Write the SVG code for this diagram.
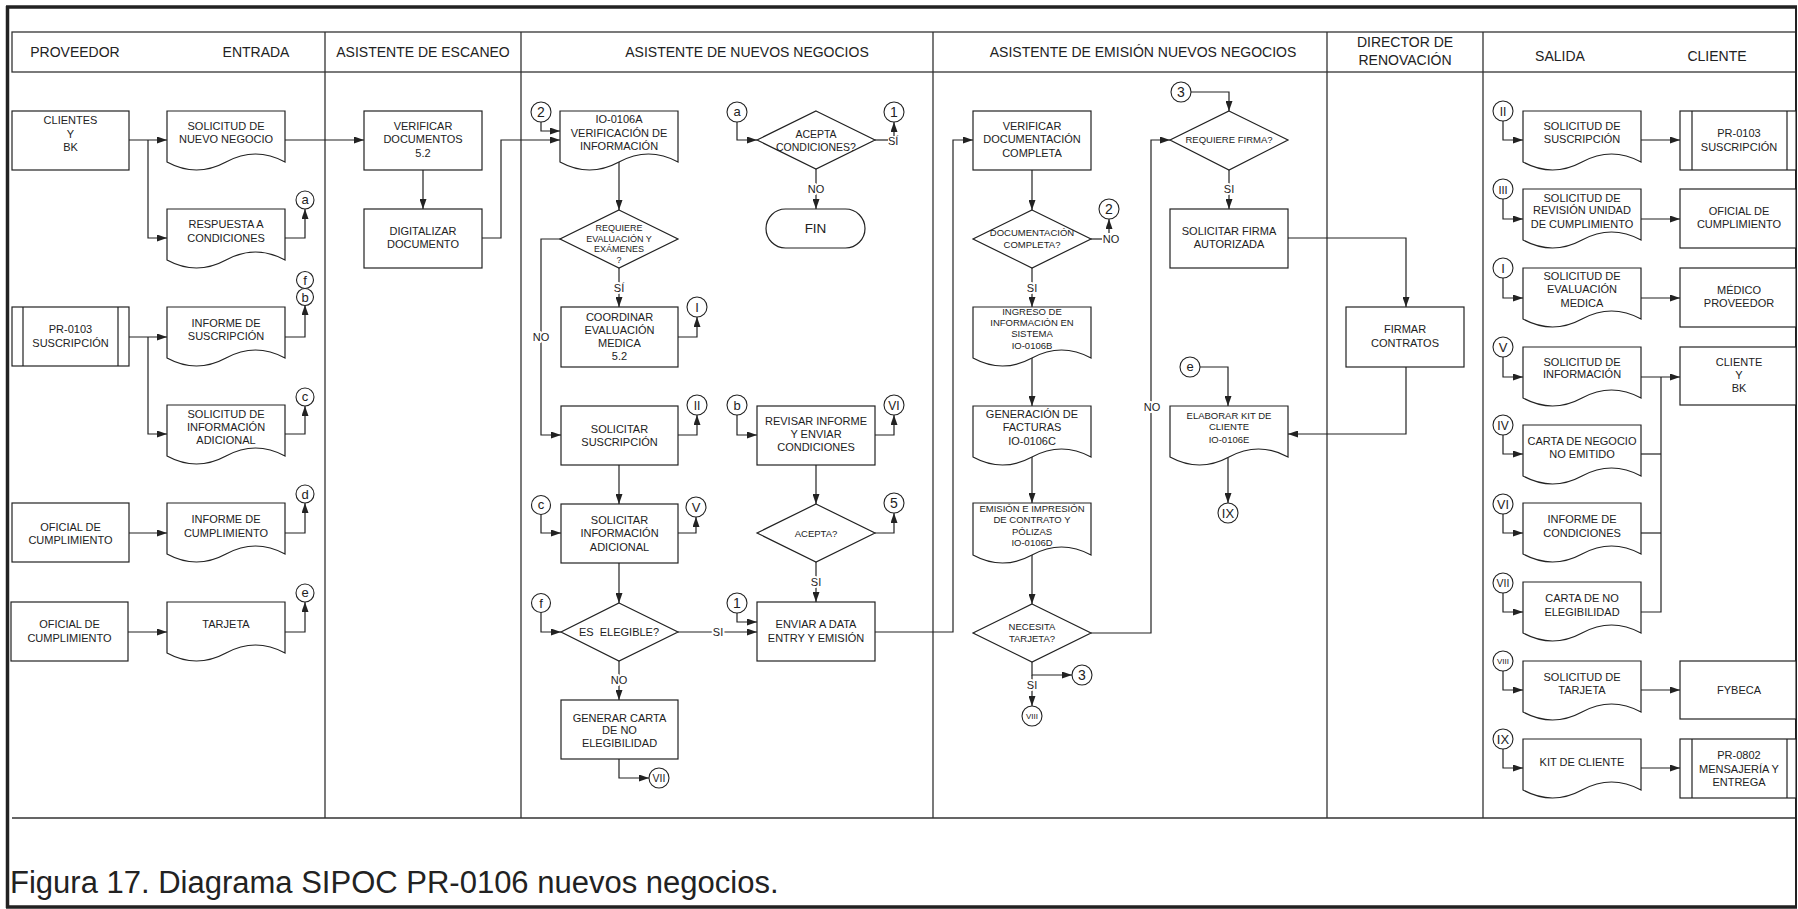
<svg xmlns="http://www.w3.org/2000/svg" width="1798" height="909" viewBox="0 0 1798 909">
<style>
text{font-family:"Liberation Sans",Arial,sans-serif;fill:#222;text-anchor:middle}
.t{font-size:11px}
.s{font-size:9.5px}
.h{font-size:14px}
.c{font-size:13px}
.lb{font-size:11px;stroke:#fff;stroke-width:4px;paint-order:stroke;stroke-linejoin:round}
.sh{fill:#fff;stroke:#222;stroke-width:1.2}
.ln{fill:none;stroke:#222;stroke-width:1.2}
.ar{fill:none;stroke:#222;stroke-width:1.2;marker-end:url(#ah)}
.lane{fill:none;stroke:#333;stroke-width:1.3}
.cir{fill:#fff;stroke:#222;stroke-width:1.1}
</style>
<defs>
<marker id="ah" viewBox="0 0 10 7" refX="10" refY="3.5" markerWidth="10" markerHeight="7" markerUnits="userSpaceOnUse" orient="auto"><path d="M0,0L10,3.5L0,7z" fill="#222"/></marker>
</defs>
<rect x="0" y="0" width="1798" height="909" fill="#fff"/>

<g id="frame">
<rect class="lane" x="12" y="32" width="1784" height="40"/>
<path class="lane" d="M325,32V818M521,32V818M933,32V818M1327,32V818M1483,32V818M12,818H1796"/>
<path d="M6,7H1797M7.5,6V908M6,907H1797" fill="none" stroke="#222" stroke-width="3.5"/>
<path d="M1796,7V908" fill="none" stroke="#222" stroke-width="2"/>
<text class="h" x="75" y="57">PROVEEDOR</text>
<text class="h" x="256" y="57">ENTRADA</text>
<text class="h" x="423" y="57">ASISTENTE DE ESCANEO</text>
<text class="h" x="747" y="57">ASISTENTE DE NUEVOS NEGOCIOS</text>
<text class="h" x="1143" y="57">ASISTENTE DE EMISIÓN NUEVOS NEGOCIOS</text>
<text class="h" x="1405" y="47">DIRECTOR DE</text>
<text class="h" x="1405" y="65">RENOVACIÓN</text>
<text class="h" x="1560" y="61">SALIDA</text>
<text class="h" x="1717" y="61">CLIENTE</text>
<text x="10" y="893" style="font-size:31px;text-anchor:start">Figura 17. Diagrama SIPOC PR-0106 nuevos negocios.</text>
</g>

<g id="connectors">
<path class="ar" d="M129,140H167"/>
<path class="ar" d="M148,140V238H167"/>
<path class="ar" d="M285,140H364"/>
<path class="ar" d="M285,238H305V209"/>
<path class="ar" d="M129,337H167"/>
<path class="ar" d="M148,337V434H167"/>
<path class="ar" d="M285,337H305V305"/>
<path class="ar" d="M285,434H305V406"/>
<path class="ar" d="M129,533H167"/>
<path class="ar" d="M285,533H305V503"/>
<path class="ar" d="M128,632H167"/>
<path class="ar" d="M285,632H305V602"/>
<path class="ar" d="M423,170V209"/>
<path class="ar" d="M482,238H501V140H560"/>
<path class="ar" d="M541,122V131H560"/>
<path class="ar" d="M619,162V210"/>
<path class="ar" d="M619,268V307"/>
<text class="lb" x="619" y="292">SÍ</text>
<path class="ar" d="M678,337H697V317"/>
<path class="ar" d="M561,239H541V435H561"/>
<text class="lb" x="541" y="341">NO</text>
<path class="ar" d="M678,435H697V415"/>
<path class="ar" d="M619,465V504"/>
<path class="ar" d="M541,514V533H561"/>
<path class="ar" d="M678,533H696V517"/>
<path class="ar" d="M619,563V603"/>
<path class="ar" d="M541,612V632H561"/>
<path class="ar" d="M678,632H757"/>
<text class="lb" x="718" y="636">SI</text>
<path class="ar" d="M619,661V700"/>
<text class="lb" x="619" y="684">NO</text>
<path class="ar" d="M619,759V778H649"/>
<path class="ar" d="M737,122V140H757"/>
<path class="ln" d="M875,140H888"/>
<path class="ar" d="M894,136V122"/>
<text class="t" x="888" y="145" style="text-anchor:start">SÍ</text>
<path class="ar" d="M816,169V209"/>
<text class="lb" x="816" y="193">NO</text>
<path class="ar" d="M737,415V435H757"/>
<path class="ar" d="M875,435H894V415"/>
<path class="ar" d="M816,465V504"/>
<path class="ar" d="M875,533H894V513"/>
<path class="ar" d="M816,562V602"/>
<text class="lb" x="816" y="586">SI</text>
<path class="ar" d="M737,613V622H757"/>
<path class="ar" d="M875,632H953V140H973"/>
<path class="ar" d="M1032,170V210"/>
<path class="ln" d="M1091,239H1102"/>
<text class="t" x="1111" y="243">NO</text>
<path class="ar" d="M1109,233V219"/>
<path class="ar" d="M1032,268V307"/>
<text class="lb" x="1032" y="292">SI</text>
<path class="ar" d="M1032,358V406"/>
<path class="ar" d="M1032,457V503"/>
<path class="ar" d="M1032,555V604"/>
<path class="ar" d="M1032,662V675H1072"/>
<path class="ar" d="M1032,675V706"/>
<text class="lb" x="1032" y="689">SI</text>
<path class="ar" d="M1091,633H1151V140H1170"/>
<text class="lb" x="1152" y="411">NO</text>
<path class="ar" d="M1191,92H1229V111"/>
<path class="ar" d="M1229,170V209"/>
<text class="lb" x="1229" y="193">SI</text>
<path class="ar" d="M1288,238H1406V307"/>
<path class="ar" d="M1406,367V434H1288"/>
<path class="ar" d="M1200,367H1228V406"/>
<path class="ar" d="M1228,458V503"/>
<path class="ar" d="M1503,121V140H1523"/>
<path class="ar" d="M1641,140H1680"/>
<path class="ar" d="M1503,199V219H1523"/>
<path class="ar" d="M1641,219H1680"/>
<path class="ar" d="M1503,278V298H1523"/>
<path class="ar" d="M1641,298H1680"/>
<path class="ar" d="M1503,357V377H1523"/>
<path class="ar" d="M1641,377H1680"/>
<path class="ar" d="M1503,435V454H1523"/>
<path class="ln" d="M1641,454H1661"/>
<path class="ar" d="M1503,514V533H1523"/>
<path class="ln" d="M1641,533H1661"/>
<path class="ar" d="M1503,593V612H1523"/>
<path class="ln" d="M1641,612H1661V377"/>
<path class="ar" d="M1503,671V690H1523"/>
<path class="ar" d="M1641,690H1680"/>
<path class="ar" d="M1503,749V768H1523"/>
<path class="ar" d="M1641,768H1680"/>
</g>

<g id="n-clientes"><rect class="sh" x="12" y="111" width="117" height="59"/><text class="t"><tspan x="70.5" y="124">CLIENTES</tspan><tspan x="70.5" y="138">Y</tspan><tspan x="70.5" y="151">BK</tspan></text></g>
<g id="n-sol-nuevo"><path class="sh" d="M167,111h118v51q-29.5,-16 -59,0t-59,0z"/><text class="t"><tspan x="226" y="130">SOLICITUD DE</tspan><tspan x="226" y="143">NUEVO NEGOCIO</tspan></text></g>
<g id="n-respuesta"><path class="sh" d="M167,209h118v51q-29.5,-16 -59,0t-59,0z"/><text class="t"><tspan x="226" y="228">RESPUESTA A</tspan><tspan x="226" y="242">CONDICIONES</tspan></text></g>
<g id="n-pr0103-in"><rect class="sh" x="12" y="307" width="117" height="59"/><path class="ln" d="M23,307V366M118,307V366"/><text class="t"><tspan x="70.5" y="333">PR-0103</tspan><tspan x="70.5" y="347">SUSCRIPCIÓN</tspan></text></g>
<g id="n-inf-susc"><path class="sh" d="M167,307h118v51q-29.5,-16 -59,0t-59,0z"/><text class="t"><tspan x="226" y="327">INFORME DE</tspan><tspan x="226" y="340">SUSCRIPCIÓN</tspan></text></g>
<g id="n-sol-info-ad"><path class="sh" d="M167,405h118v51q-29.5,-16 -59,0t-59,0z"/><text class="t"><tspan x="226" y="418">SOLICITUD DE</tspan><tspan x="226" y="431">INFORMACIÓN</tspan><tspan x="226" y="444">ADICIONAL</tspan></text></g>
<g id="n-oficial1"><rect class="sh" x="12" y="503" width="117" height="59"/><text class="t"><tspan x="70.5" y="531">OFICIAL DE</tspan><tspan x="70.5" y="544">CUMPLIMIENTO</tspan></text></g>
<g id="n-inf-cump"><path class="sh" d="M167,503h118v51q-29.5,-16 -59,0t-59,0z"/><text class="t"><tspan x="226" y="523">INFORME DE</tspan><tspan x="226" y="537">CUMPLIMIENTO</tspan></text></g>
<g id="n-oficial2"><rect class="sh" x="11" y="602" width="117" height="59"/><text class="t"><tspan x="69.5" y="628">OFICIAL DE</tspan><tspan x="69.5" y="642">CUMPLIMIENTO</tspan></text></g>
<g id="n-tarjeta"><path class="sh" d="M167,602h118v51q-29.5,-16 -59,0t-59,0z"/><text class="t" x="226" y="628">TARJETA</text></g>
<g id="r-a1"><circle class="cir" cx="305" cy="200" r="9"/><text class="c" x="305" y="204">a</text></g>
<g id="r-f1"><circle class="cir" cx="305" cy="280" r="8.5"/><text class="c" x="305" y="284.5">f</text></g>
<g id="r-b1"><circle class="cir" cx="305" cy="297" r="8.5"/><text class="c" x="305" y="301.5">b</text></g>
<g id="r-c1"><circle class="cir" cx="305" cy="397" r="9"/><text class="c" x="305" y="401">c</text></g>
<g id="r-d1"><circle class="cir" cx="305" cy="494" r="9"/><text class="c" x="305" y="498.5">d</text></g>
<g id="r-e1"><circle class="cir" cx="305" cy="593" r="9"/><text class="c" x="305" y="597">e</text></g>

<g id="n-verif-docs"><rect class="sh" x="364" y="111" width="118" height="59"/><text class="t"><tspan x="423" y="130">VERIFICAR</tspan><tspan x="423" y="143">DOCUMENTOS</tspan><tspan x="423" y="157">5.2</tspan></text></g>
<g id="n-digitalizar"><rect class="sh" x="364" y="209" width="118" height="59"/><text class="t"><tspan x="423" y="235">DIGITALIZAR</tspan><tspan x="423" y="248">DOCUMENTO</tspan></text></g>

<g id="r-2a"><circle class="cir" cx="541" cy="112" r="10"/><text class="c" x="541" y="117" style="font-size:14px">2</text></g>
<g id="n-io0106a"><path class="sh" d="M560,111h118v51q-29.5,-16 -59,0t-59,0z"/><text class="t"><tspan x="619" y="123">IO-0106A</tspan><tspan x="619" y="137">VERIFICACIÓN DE</tspan><tspan x="619" y="150">INFORMACIÓN</tspan></text></g>
<g id="n-d-requiere"><polygon class="sh" points="619,210 678,239 619,268 560,239"/><text style="font-size:9px"><tspan x="619" y="231">REQUIERE</tspan><tspan x="619" y="242">EVALUACIÓN Y</tspan><tspan x="619" y="252">EXÁMENES</tspan><tspan x="619" y="263">?</tspan></text></g>
<g id="n-coordinar"><rect class="sh" x="561" y="307" width="117" height="60"/><text class="t"><tspan x="619.5" y="321">COORDINAR</tspan><tspan x="619.5" y="334">EVALUACIÓN</tspan><tspan x="619.5" y="347">MEDICA</tspan><tspan x="619.5" y="360">5.2</tspan></text></g>
<g id="r-I1"><circle class="cir" cx="697" cy="307" r="10"/><text class="c" x="697" y="312">I</text></g>
<g id="n-sol-susc"><rect class="sh" x="561" y="406" width="117" height="59"/><text class="t"><tspan x="619.5" y="433">SOLICITAR</tspan><tspan x="619.5" y="446">SUSCRIPCIÓN</tspan></text></g>
<g id="r-II1"><circle class="cir" cx="697" cy="405" r="10"/><text class="c" x="697" y="409.5" style="font-size:12px">II</text></g>
<g id="r-c2"><circle class="cir" cx="541" cy="505" r="9.5"/><text class="c" x="541" y="509">c</text></g>
<g id="n-sol-info"><rect class="sh" x="561" y="504" width="117" height="59"/><text class="t"><tspan x="619.5" y="524">SOLICITAR</tspan><tspan x="619.5" y="537">INFORMACIÓN</tspan><tspan x="619.5" y="551">ADICIONAL</tspan></text></g>
<g id="r-V1"><circle class="cir" cx="696" cy="507" r="10"/><text class="c" x="696" y="512">V</text></g>
<g id="r-f2"><circle class="cir" cx="541" cy="603" r="9.5"/><text class="c" x="541" y="607.5">f</text></g>
<g id="n-d-elegible"><polygon class="sh" points="619,603 678,632 619,661 561,632"/><text class="t" x="619" y="636" style="white-space:pre">ES  ELEGIBLE?</text></g>
<g id="n-generar"><rect class="sh" x="561" y="700" width="117" height="59"/><text class="t"><tspan x="619.5" y="722">GENERAR CARTA</tspan><tspan x="619.5" y="734">DE NO</tspan><tspan x="619.5" y="747">ELEGIBILIDAD</tspan></text></g>
<g id="r-VII1"><circle class="cir" cx="659" cy="778" r="10"/><text class="c" x="659" y="782" style="font-size:10.5px">VII</text></g>

<g id="r-a2"><circle class="cir" cx="737" cy="112" r="10"/><text class="c" x="737" y="116">a</text></g>
<g id="n-d-acepta-cond"><polygon class="sh" points="816,111 875,140 816,169 757,140"/><text style="font-size:10.5px"><tspan x="816" y="138">ACEPTA</tspan><tspan x="816" y="151">CONDICIONES?</tspan></text></g>
<g id="r-1a"><circle class="cir" cx="894" cy="112" r="10"/><text class="c" x="894" y="117" style="font-size:14px">1</text></g>
<g id="n-fin"><rect class="sh" x="766" y="209" width="99" height="39" rx="19.5"/><text x="815.5" y="233" style="font-size:13.5px">FIN</text></g>
<g id="r-b2"><circle class="cir" cx="737" cy="405" r="10"/><text class="c" x="737" y="409.5">b</text></g>
<g id="n-revisar"><rect class="sh" x="757" y="406" width="118" height="59"/><text class="t"><tspan x="816" y="425">REVISAR INFORME</tspan><tspan x="816" y="438">Y ENVIAR</tspan><tspan x="816" y="451">CONDICIONES</tspan></text></g>
<g id="r-VI1"><circle class="cir" cx="894" cy="405" r="10"/><text class="c" x="894" y="409.5" style="font-size:12px">VI</text></g>
<g id="n-d-acepta"><polygon class="sh" points="816,504 875,533 816,562 757,533"/><text class="s" x="816" y="537">ACEPTA?</text></g>
<g id="r-5"><circle class="cir" cx="894" cy="503" r="10"/><text class="c" x="894" y="508" style="font-size:14px">5</text></g>
<g id="r-1b"><circle class="cir" cx="737" cy="603" r="10"/><text class="c" x="737" y="608" style="font-size:14px">1</text></g>
<g id="n-enviar"><rect class="sh" x="757" y="602" width="118" height="59"/><text class="t"><tspan x="816" y="628">ENVIAR A DATA</tspan><tspan x="816" y="642">ENTRY Y EMISIÓN</tspan></text></g>

<g id="n-verif-doc-comp"><rect class="sh" x="973" y="111" width="118" height="59"/><text class="t"><tspan x="1032" y="130">VERIFICAR</tspan><tspan x="1032" y="143">DOCUMENTACIÓN</tspan><tspan x="1032" y="157">COMPLETA</tspan></text></g>
<g id="n-d-doc-comp"><polygon class="sh" points="1032,210 1091,239 1032,268 973,239"/><text class="s"><tspan x="1032" y="236">DOCUMENTACIÓN</tspan><tspan x="1032" y="248">COMPLETA?</tspan></text></g>
<g id="r-2b"><circle class="cir" cx="1109" cy="209" r="10"/><text class="c" x="1109" y="214" style="font-size:14px">2</text></g>
<g id="n-ingreso"><path class="sh" d="M973,307h118v51q-29.5,-16 -59,0t-59,0z"/><text class="s"><tspan x="1032" y="315">INGRESO DE</tspan><tspan x="1032" y="326">INFORMACIÓN EN</tspan><tspan x="1032" y="337">SISTEMA</tspan><tspan x="1032" y="349">IO-0106B</tspan></text></g>
<g id="n-generacion"><path class="sh" d="M973,406h118v51q-29.5,-16 -59,0t-59,0z"/><text class="t"><tspan x="1032" y="418">GENERACIÓN DE</tspan><tspan x="1032" y="431">FACTURAS</tspan><tspan x="1032" y="445">IO-0106C</tspan></text></g>
<g id="n-emision"><path class="sh" d="M973,503h118v52q-29.5,-16 -59,0t-59,0z"/><text class="s"><tspan x="1032" y="512">EMISIÓN E IMPRESIÓN</tspan><tspan x="1032" y="523">DE CONTRATO Y</tspan><tspan x="1032" y="535">PÓLIZAS</tspan><tspan x="1032" y="546">IO-0106D</tspan></text></g>
<g id="n-d-necesita"><polygon class="sh" points="1032,604 1091,633 1032,662 973,633"/><text class="s"><tspan x="1032" y="630">NECESITA</tspan><tspan x="1032" y="642">TARJETA?</tspan></text></g>
<g id="r-3a"><circle class="cir" cx="1082" cy="675" r="10"/><text class="c" x="1082" y="680" style="font-size:14px">3</text></g>
<g id="r-VIII1"><circle class="cir" cx="1032" cy="716" r="10"/><text x="1032" y="719" style="font-size:8px">VIII</text></g>

<g id="r-3b"><circle class="cir" cx="1181" cy="92" r="10"/><text class="c" x="1181" y="97" style="font-size:14px">3</text></g>
<g id="n-d-firma"><polygon class="sh" points="1229,111 1288,140 1229,170 1170,140"/><text class="s" x="1229" y="143">REQUIERE FIRMA?</text></g>
<g id="n-sol-firma"><rect class="sh" x="1170" y="209" width="118" height="59"/><text class="t"><tspan x="1229" y="235">SOLICITAR FIRMA</tspan><tspan x="1229" y="248">AUTORIZADA</tspan></text></g>
<g id="n-firmar"><rect class="sh" x="1346" y="307" width="118" height="60"/><text class="t"><tspan x="1405" y="333">FIRMAR</tspan><tspan x="1405" y="347">CONTRATOS</tspan></text></g>
<g id="r-e2"><circle class="cir" cx="1190" cy="367" r="10"/><text class="c" x="1190" y="371">e</text></g>
<g id="n-elaborar"><path class="sh" d="M1170,406h118v51q-29.5,-16 -59,0t-59,0z"/><text class="s"><tspan x="1229" y="419">ELABORAR KIT DE</tspan><tspan x="1229" y="430">CLIENTE</tspan><tspan x="1229" y="443">IO-0106E</tspan></text></g>
<g id="r-IX1"><circle class="cir" cx="1228" cy="513" r="10"/><text class="c" x="1228" y="518" style="font-size:13px">IX</text></g>

<g id="r-II2"><circle class="cir" cx="1503" cy="111" r="10"/><text class="c" x="1503" y="115.5" style="font-size:12px">II</text></g>
<g id="n-out-sol-susc"><path class="sh" d="M1523,111h118v51q-29.5,-16 -59,0t-59,0z"/><text class="t"><tspan x="1582" y="130">SOLICITUD DE</tspan><tspan x="1582" y="143">SUSCRIPCIÓN</tspan></text></g>
<g id="n-pr0103-out"><rect class="sh" x="1680" y="111" width="116" height="59"/><path class="ln" d="M1692,111V170M1787,111V170"/><text class="t"><tspan x="1739" y="137">PR-0103</tspan><tspan x="1739" y="151">SUSCRIPCIÓN</tspan></text></g>
<g id="r-III"><circle class="cir" cx="1503" cy="189" r="10"/><text class="c" x="1503" y="193.5" style="font-size:11px">III</text></g>
<g id="n-out-sol-rev"><path class="sh" d="M1523,189h118v51q-29.5,-16 -59,0t-59,0z"/><text class="t"><tspan x="1582" y="202">SOLICITUD DE</tspan><tspan x="1582" y="214">REVISIÓN UNIDAD</tspan><tspan x="1582" y="228">DE CUMPLIMIENTO</tspan></text></g>
<g id="n-out-oficial"><rect class="sh" x="1680" y="189" width="116" height="59"/><text class="t"><tspan x="1739" y="215">OFICIAL DE</tspan><tspan x="1739" y="228">CUMPLIMIENTO</tspan></text></g>
<g id="r-I2"><circle class="cir" cx="1503" cy="268" r="10"/><text class="c" x="1503" y="273">I</text></g>
<g id="n-out-sol-eval"><path class="sh" d="M1523,268h118v51q-29.5,-16 -59,0t-59,0z"/><text class="t"><tspan x="1582" y="280">SOLICITUD DE</tspan><tspan x="1582" y="293">EVALUACIÓN</tspan><tspan x="1582" y="307">MEDICA</tspan></text></g>
<g id="n-out-medico"><rect class="sh" x="1680" y="268" width="116" height="59"/><text class="t"><tspan x="1739" y="294">MÉDICO</tspan><tspan x="1739" y="307">PROVEEDOR</tspan></text></g>
<g id="r-V2"><circle class="cir" cx="1503" cy="347" r="10"/><text class="c" x="1503" y="352">V</text></g>
<g id="n-out-sol-info"><path class="sh" d="M1523,347h118v51q-29.5,-16 -59,0t-59,0z"/><text class="t"><tspan x="1582" y="366">SOLICITUD DE</tspan><tspan x="1582" y="378">INFORMACIÓN</tspan></text></g>
<g id="n-out-cliente"><rect class="sh" x="1680" y="347" width="116" height="58"/><text class="t"><tspan x="1739" y="366">CLIENTE</tspan><tspan x="1739" y="379">Y</tspan><tspan x="1739" y="392">BK</tspan></text></g>
<g id="r-IV"><circle class="cir" cx="1503" cy="425" r="10"/><text class="c" x="1503" y="429.5" style="font-size:12px">IV</text></g>
<g id="n-out-carta-neg"><path class="sh" d="M1523,425h118v51q-29.5,-16 -59,0t-59,0z"/><text class="t"><tspan x="1582" y="445">CARTA DE NEGOCIO</tspan><tspan x="1582" y="458">NO EMITIDO</tspan></text></g>
<g id="r-VI2"><circle class="cir" cx="1503" cy="504" r="10"/><text class="c" x="1503" y="508.5" style="font-size:12.5px">VI</text></g>
<g id="n-out-inf-cond"><path class="sh" d="M1523,503h118v51q-29.5,-16 -59,0t-59,0z"/><text class="t"><tspan x="1582" y="523">INFORME DE</tspan><tspan x="1582" y="537">CONDICIONES</tspan></text></g>
<g id="r-VII2"><circle class="cir" cx="1503" cy="583" r="10"/><text class="c" x="1503" y="587" style="font-size:10.5px">VII</text></g>
<g id="n-out-carta-no"><path class="sh" d="M1523,582h118v51q-29.5,-16 -59,0t-59,0z"/><text class="t"><tspan x="1582" y="602">CARTA DE NO</tspan><tspan x="1582" y="616">ELEGIBILIDAD</tspan></text></g>
<g id="r-VIII2"><circle class="cir" cx="1503" cy="661" r="10"/><text x="1503" y="664" style="font-size:8px">VIII</text></g>
<g id="n-out-sol-tarj"><path class="sh" d="M1523,661h118v51q-29.5,-16 -59,0t-59,0z"/><text class="t"><tspan x="1582" y="681">SOLICITUD DE</tspan><tspan x="1582" y="694">TARJETA</tspan></text></g>
<g id="n-out-fybeca"><rect class="sh" x="1680" y="661" width="116" height="58"/><text class="t" x="1739" y="694">FYBECA</text></g>
<g id="r-IX2"><circle class="cir" cx="1503" cy="739" r="10"/><text class="c" x="1503" y="744" style="font-size:13px">IX</text></g>
<g id="n-out-kit"><path class="sh" d="M1523,739h118v51q-29.5,-16 -59,0t-59,0z"/><text class="t" x="1582" y="766">KIT DE CLIENTE</text></g>
<g id="n-out-pr0802"><rect class="sh" x="1680" y="739" width="116" height="59"/><path class="ln" d="M1692,739V798M1787,739V798"/><text class="t"><tspan x="1739" y="759">PR-0802</tspan><tspan x="1739" y="773">MENSAJERÍA Y</tspan><tspan x="1739" y="786">ENTREGA</tspan></text></g>
</svg>
